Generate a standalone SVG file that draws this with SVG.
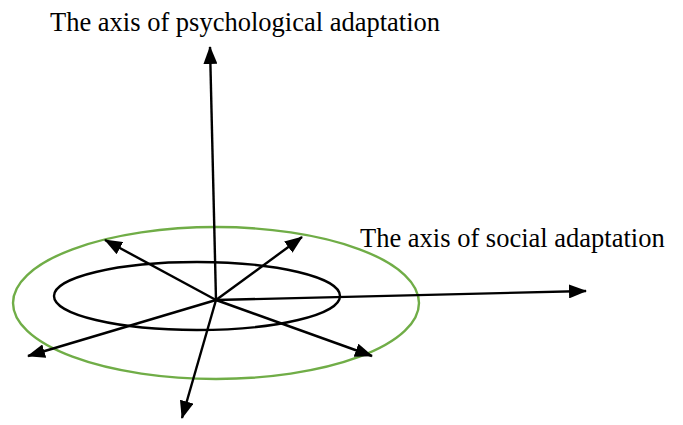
<svg xmlns="http://www.w3.org/2000/svg" width="683" height="425" viewBox="0 0 683 425">
<style>
.lbl{font-family:"Liberation Serif","Times New Roman",serif;font-size:26.5px;fill:#000}
.ax{stroke:#000;stroke-width:2.4;fill:none;marker-end:url(#ah)}
</style>
<defs>
<marker id="ah" markerUnits="userSpaceOnUse" markerWidth="18" markerHeight="14" viewBox="0 0 18 14" refX="17" refY="7" orient="auto">
<path d="M0,0 L18,7 L0,14 Z" fill="#000"/>
</marker>
</defs>
<rect width="683" height="425" fill="#fff"/>
<g id="outer-ring"><ellipse cx="216" cy="303" rx="203" ry="76" fill="none" stroke="#70ad47" stroke-width="2.4"/></g>
<g id="inner-ring"><ellipse cx="197" cy="296" rx="143" ry="34" fill="none" stroke="#000" stroke-width="2.4"/></g>
<g id="connectors">
<line class="ax" x1="216" y1="300" x2="210" y2="47"/>
<line class="ax" x1="216" y1="300" x2="586" y2="291"/>
<line class="ax" x1="216" y1="300" x2="105" y2="240"/>
<line class="ax" x1="216" y1="300" x2="302" y2="237"/>
<line class="ax" x1="216" y1="300" x2="28" y2="356"/>
<line class="ax" x1="216" y1="300" x2="372" y2="356"/>
<line class="ax" x1="216" y1="300" x2="182" y2="418"/>
</g>
<g id="label-psych"><text class="lbl" x="50" y="31">The axis of psychological adaptation</text></g>
<g id="label-social"><text class="lbl" x="360" y="247">The axis of social adaptation</text></g>
</svg>
